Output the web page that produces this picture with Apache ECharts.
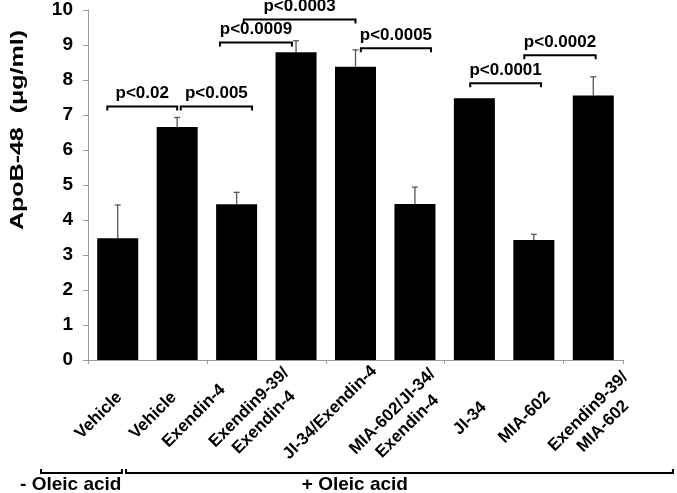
<!DOCTYPE html>
<html><head><meta charset="utf-8">
<script src="https://cdn.jsdelivr.net/npm/echarts@6/dist/echarts.min.js"></script>
<style>html,body{margin:0;padding:0;background:#fff}#c{width:677px;height:493px}</style>
</head><body><div id="c"></div>
<script>
// ---- data ----
const categories = ['Vehicle', 'Vehicle', 'Exendin-4', 'Exendin9-39/\nExendin-4', 'JI-34/Exendin-4',
  'MIA-602/JI-34/\nExendin-4', 'JI-34', 'MIA-602', 'Exendin9-39/\nMIA-602'];
const means = [3.48, 6.66, 4.45, 8.79, 8.38, 4.46, 7.48, 3.43, 7.56];
const sems  = [0.95, 0.27, 0.34, 0.33, 0.48, 0.48, 0.00, 0.16, 0.53];
const yTicks = [0, 1, 2, 3, 4, 5, 6, 7, 8, 9, 10];
const yTitle = 'ApoB-48  (μg/ml)';

// significance brackets (category-index span, height in µg/ml)
const pLabels = ['p<0.02', 'p<0.005', 'p<0.0009', 'p<0.0003', 'p<0.0005', 'p<0.0001', 'p<0.0002'];
const pFrom   = [-0.175, 1.06, 1.72, 2.12, 4.09, 5.93, 6.84];
const pTo     = [1.00, 2.26, 2.93, 4.00, 5.27, 7.12, 8.04];
const pHeight = [7.24, 7.24, 9.07, 9.73, 8.91, 7.91, 8.71];

// treatment groups under the axis (category-index span)
const groupLabels = ['- Oleic acid', '+ Oleic acid'];
const groupFrom   = [-1.29, 0.14];
const groupTo     = [0.07, 9.34];
const groupTextAt = [-0.79, 3.99];

// ---- layout / style (not data) ----
const FONT = '"Liberation Sans", Arial, Helvetica, sans-serif';
const labelNudge = [[-19, 55.5], [-24, 55.5], [-42.6, 56], [-39.5, 55], [-25.5, 52.5],
  [-15, 59], [-4.4, 58.5], [-9.3, 57.5], [2.3, 59]];

const chart = echarts.init(document.getElementById('c'), null, {renderer: 'canvas'});

const option = {
  animation: false,
  backgroundColor: '#fff',
  grid: {left: 88, right: 54, top: 10, bottom: 133, containLabel: false},
  graphic: [{
    type: 'text', x: 18, y: 130, rotation: Math.PI / 2, scaleY: 0.72,
    style: {text: yTitle, font: 'bold 25px ' + FONT, fill: '#000', align: 'center', verticalAlign: 'middle'}
  }],
  xAxis: {
    type: 'category',
    data: categories,
    boundaryGap: true,
    axisLine: {show: true, lineStyle: {color: '#9a9a9a', width: 1}},
    axisTick: {show: true, length: 4, lineStyle: {color: '#9a9a9a'}},
    axisLabel: {show: false},
    splitLine: {show: false}
  },
  yAxis: {
    type: 'value',
    min: yTicks[0], max: yTicks[yTicks.length - 1], interval: 1,
    axisLine: {show: true, lineStyle: {color: '#9a9a9a', width: 1}},
    axisTick: {show: true, length: 5, lineStyle: {color: '#9a9a9a'}},
    axisLabel: {fontFamily: FONT, fontWeight: 'bold', fontSize: 19, color: '#000', margin: 15},
    splitLine: {show: false}
  },
  series: [
    {
      type: 'bar',
      data: means,
      barCategoryGap: '31%',
      itemStyle: {color: '#000'},
      silent: true
    },
    {
      // error bars (upper only)
      type: 'custom',
      data: means.map((m, i) => [i, m, m + sems[i]]),
      renderItem: function (params, api) {
        const i = api.value(0);
        const lo = api.coord([i, api.value(1)]);
        const hi = api.coord([i, api.value(2)]);
        if (Math.abs(hi[1] - lo[1]) < 0.5) return {type: 'group', children: []};
        const st = {stroke: '#555', lineWidth: 1.3};
        return {type: 'group', children: [
          {type: 'line', shape: {x1: lo[0], y1: lo[1], x2: hi[0], y2: hi[1]}, style: st},
          {type: 'line', shape: {x1: hi[0] - 3, y1: hi[1], x2: hi[0] + 3, y2: hi[1]}, style: st}
        ]};
      },
      z: 3, silent: true
    },
    {
      // significance brackets
      type: 'custom',
      data: pLabels.map((_, i) => [0, pHeight[i]]),
      renderItem: function (params, api) {
        const k = params.dataIndex;
        const bw = api.size([1, 0])[0];
        const base = api.coord([0, api.value(1)]);
        const x0 = base[0] + pFrom[k] * bw, x1 = base[0] + pTo[k] * bw, y = base[1];
        return {type: 'group', children: [
          {type: 'polyline', shape: {points: [[x0, y + 4], [x0, y], [x1, y], [x1, y + 4]]},
            style: {stroke: '#000', lineWidth: 2, fill: null}},
          {type: 'text', x: (x0 + x1) / 2, y: y - 13,
            style: {text: pLabels[k], font: 'bold 17px ' + FONT, fill: '#000', align: 'center', verticalAlign: 'middle'}}
        ]};
      },
      z: 4, silent: true
    },
    {
      // rotated category labels
      type: 'custom',
      data: categories.map((_, i) => [i, 0]),
      renderItem: function (params, api) {
        const i = api.value(0);
        const p = api.coord([i, 0]);
        const n = labelNudge[i];
        return {type: 'text', x: p[0] + n[0], y: p[1] + n[1], rotation: Math.PI / 4,
          style: {text: categories[i], font: 'bold 17px ' + FONT, fill: '#000', align: 'center',
            verticalAlign: 'middle', lineHeight: 21}};
      },
      z: 4, silent: true
    },
    {
      // treatment group brackets
      type: 'custom',
      data: groupLabels.map((_, i) => [0, 0]),
      renderItem: function (params, api) {
        const k = params.dataIndex;
        const bw = api.size([1, 0])[0];
        const base = api.coord([0, 0]);
        const x0 = base[0] + groupFrom[k] * bw, x1 = base[0] + groupTo[k] * bw, y = base[1] + 113;
        const tx = base[0] + groupTextAt[k] * bw;
        return {type: 'group', children: [
          {type: 'polyline', shape: {points: [[x0, y - 4], [x0, y], [x1, y], [x1, y - 4]]},
            style: {stroke: '#000', lineWidth: 2, fill: null}},
          {type: 'text', x: tx, y: base[1] + 125,
            style: {text: groupLabels[k], font: 'bold 19px ' + FONT, fill: '#000', align: 'center', verticalAlign: 'middle'}}
        ]};
      },
      z: 4, silent: true
    }
  ]
};
chart.setOption(option);
</script>
</body></html>
